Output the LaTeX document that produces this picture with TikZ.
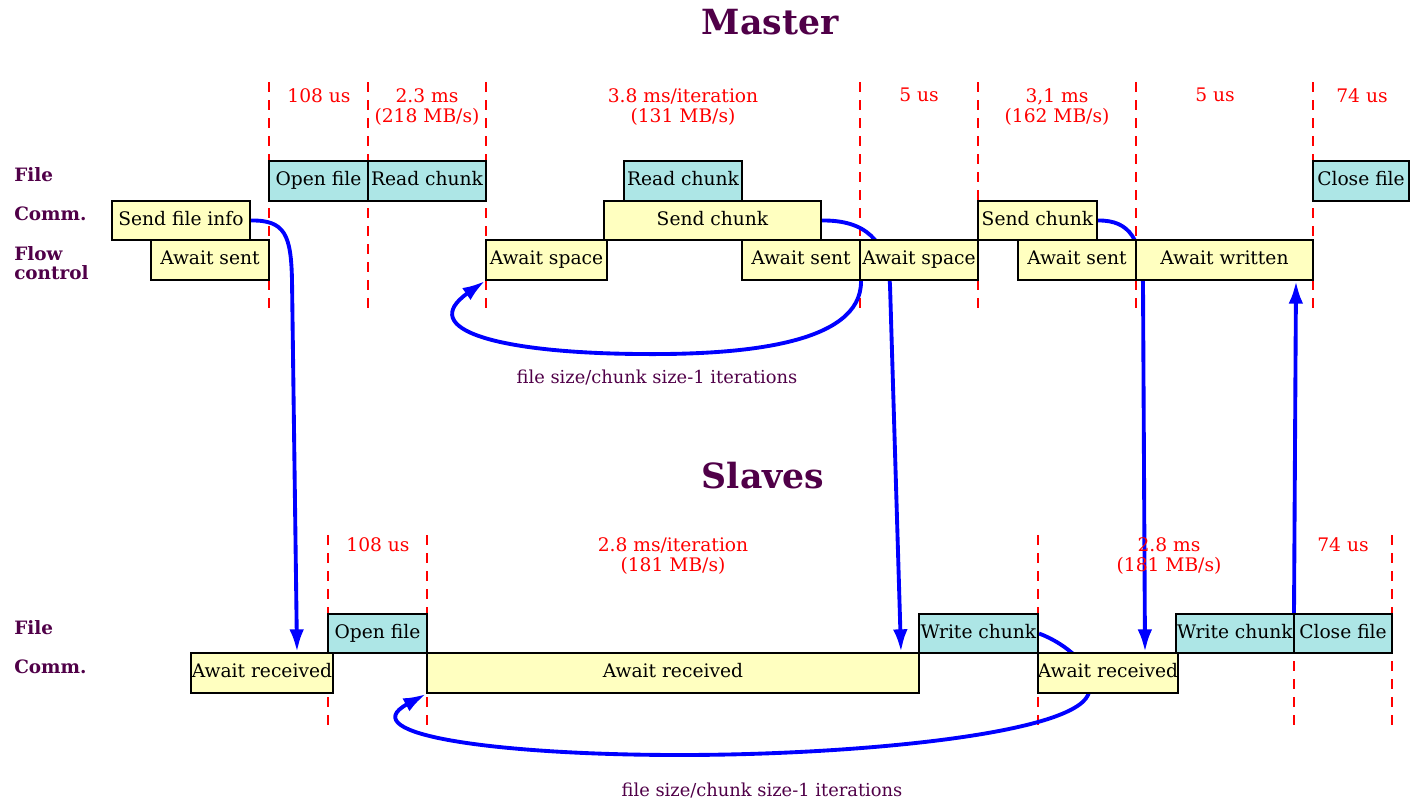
\documentclass[tikz,border=0pt]{standalone}
\usepackage{fontspec}
\setmainfont{DejaVu Serif}
\usetikzlibrary{arrows.meta,calc,backgrounds}
\definecolor{purp}{RGB}{80,0,72}
\definecolor{yel}{RGB}{255,255,192}
\definecolor{cya}{RGB}{173,230,230}
\newcommand\tbox[7]{%
  \pgfmathsetmacro\bw{(#4-#2)*0.75}%
  \pgfmathsetmacro\bh{(#5-#3)*0.75}%
  \node[#6, minimum width=\bw pt, minimum height=\bh pt] (#1) at ({(#2+#4)/2},{(#3+#5)/2}) {#7};}
\tikzset{
 box/.style={draw=black, line width=1.5pt, inner sep=0pt, text height=0.95em, text depth=0.22em, font=\fontsize{14}{16}\selectfont},
 yb/.style={box, fill=yel},
 cb/.style={box, fill=cya},
 tlab/.style={text=red, align=center, font=\fontsize{14}{15.2}\selectfont, anchor=north, inner sep=0pt},
 rlab/.style={text=purp, font=\bfseries\fontsize{13.8}{14.8}\selectfont, anchor=west, align=left, inner sep=0pt},
 ttl/.style={text=purp, font=\bfseries\fontsize{26}{30}\selectfont},
 conn/.style={blue, line width=2.9pt, -{Latex[length=17pt,width=11pt]}},
 tick/.style={red, line width=1pt, dash pattern=on 7.5pt off 6pt},
 note/.style={text=purp, font=\fontsize{13.4}{15}\selectfont},
}
\begin{document}
\begin{tikzpicture}[x=0.75pt,y=-0.75pt]
\useasboundingbox (0,0) rectangle (1410,804);
% titles
\node[ttl] (tm) at (770,22) {Master};
\node[ttl] (ts) at (763,476) {Slaves};
% row labels
\node[rlab] (lf1) at (14,175) {File};
\node[rlab] (lc1) at (14,214) {Comm.};
\node[rlab] (lfc) at (14,263) {Flow\\control};
\node[rlab] (lf2) at (14,628) {File};
\node[rlab] (lc2) at (14,667) {Comm.};
% timing labels master
\node[tlab] (t1) at (319,88) {108 us};
\node[tlab] (t2) at (427,88) {2.3 ms\\(218 MB/s)};
\node[tlab] (t3) at (683,88) {3.8 ms/iteration\\(131 MB/s)};
\node[tlab] (t4) at (919,88) {5 us};
\node[tlab] (t5) at (1057,88) {3,1 ms\\(162 MB/s)};
\node[tlab] (t6) at (1215,88) {5 us};
\node[tlab] (t7) at (1362,88) {74 us};
% timing labels slaves
\node[tlab] (s1) at (378,537) {108 us};
\node[tlab] (s2) at (673,537) {2.8 ms/iteration\\(181 MB/s)};
\node[tlab] (s3) at (1169,537) {2.8 ms\\(181 MB/s)};
\node[tlab] (s4) at (1343,537) {74 us};
% master boxes
\tbox{of1}{269}{161}{368}{201}{cb}{Open file}
\tbox{rc1}{368}{161}{486}{201}{cb}{Read chunk}
\tbox{rc2}{624}{161}{742}{201}{cb}{Read chunk}
\tbox{cf1}{1313}{161}{1409}{201}{cb}{Close file}
\tbox{sfi}{112}{201}{250}{240}{yb}{Send file info}
\tbox{sc1}{604}{201}{821}{240}{yb}{Send chunk}
\tbox{sc2}{978}{201}{1097}{240}{yb}{Send chunk}
\tbox{as1}{151}{240}{269}{280}{yb}{Await sent}
\tbox{asp1}{486}{240}{607}{280}{yb}{Await space}
\tbox{as2}{742}{240}{860}{280}{yb}{Await sent}
\tbox{asp2}{860}{240}{978}{280}{yb}{Await space}
\tbox{as3}{1018}{240}{1136}{280}{yb}{Await sent}
\tbox{aw}{1136}{240}{1313}{280}{yb}{Await written}
% slave boxes
\tbox{of2}{328}{614}{427}{653}{cb}{Open file}
\tbox{wc1}{919}{614}{1038}{653}{cb}{Write chunk}
\tbox{wc2}{1176}{614}{1294}{653}{cb}{Write chunk}
\tbox{cf2}{1294}{614}{1392}{653}{cb}{Close file}
\tbox{ar1}{191}{653}{333}{693}{yb}{Await received}
\tbox{ar2}{427}{653}{919}{693}{yb}{Await received}
\tbox{ar3}{1038}{653}{1178}{693}{yb}{Await received}
% notes
\node[note] (n1) at (657,378) {file size/chunk size-1 iterations};
\node[note] (n2) at (762,791) {file size/chunk size-1 iterations};
\begin{pgfonlayer}{background}
\foreach \x in {269,368,486,860,978,1136,1313} \draw[tick] (\x,82) -- (\x,316);
\foreach \x in {328,427,1038,1294,1392} \draw[tick] (\x,535) -- (\x,731);
\draw[conn] (sfi.east) .. controls (285,220) and (291,235) .. (292,280) -- ($(ar1.north)+(35,0)$);
\draw[conn] (as2.south east) .. controls (862,345) and (740,355) .. (640,354) .. controls (500,353) and (415,330) .. (asp1.south west);
\draw[conn] (sc1.east) .. controls (865,220) and (887,240) .. (890,285) -- ($(ar2.north east)+(-19,0)$);
\draw[conn] (sc2.east) .. controls (1130,220) and (1142,240) .. (1143,285) -- ($(ar3.north)+(37,0)$);
\draw[conn] ($(cf2.north west)+(1,0)$) -- ($(aw.south)+(71.5,0)$);
\draw[conn] (wc1.east) .. controls (1065,643) and (1100,670) .. (1088,695) .. controls (1070,735) and (850,755) .. (680,755) .. controls (500,755) and (350,735) .. (ar2.south west);
\end{pgfonlayer}
\end{tikzpicture}
\end{document}
